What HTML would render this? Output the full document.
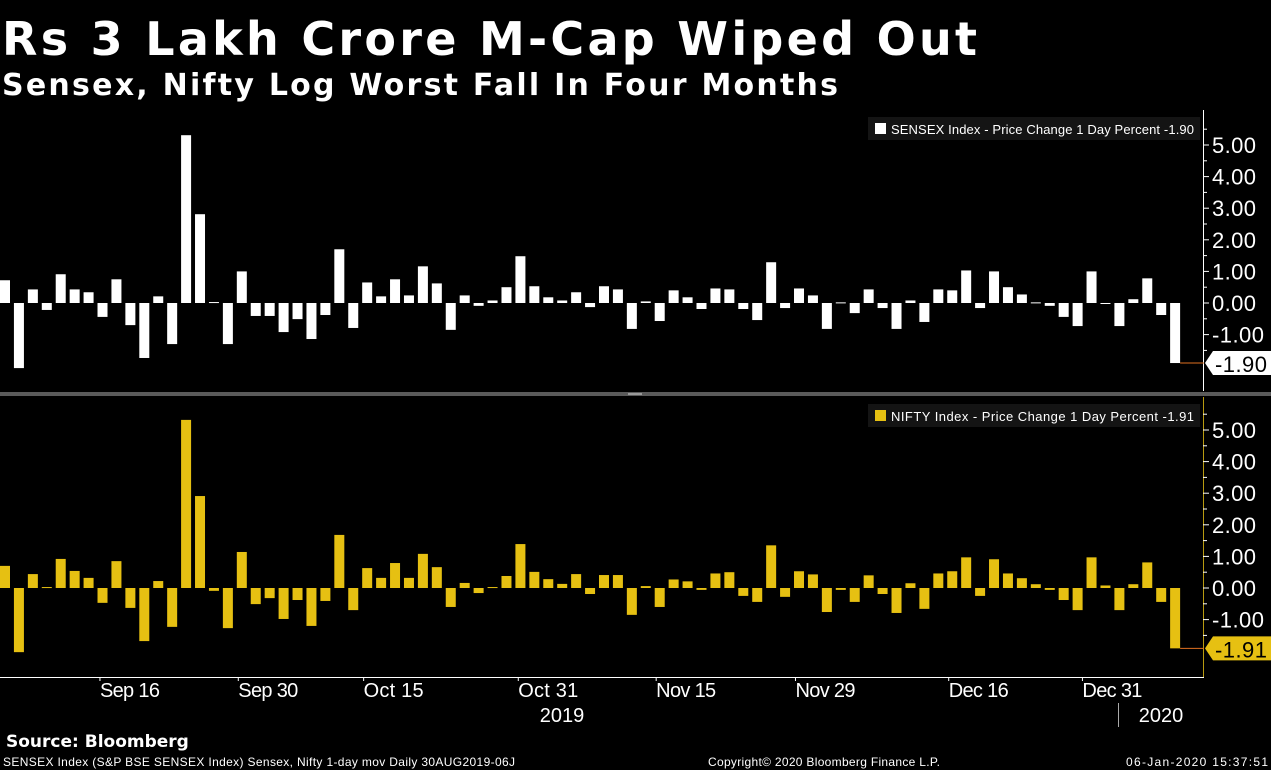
<!DOCTYPE html>
<html><head><meta charset="utf-8"><style>
body{margin:0;background:#000;width:1271px;height:770px;overflow:hidden}
svg{display:block}
</style></head><body>
<svg id="c" width="1271" height="770" xmlns="http://www.w3.org/2000/svg">
<text x="2" y="55" font-family="DejaVu Sans" font-weight="bold" font-size="46" fill="#fff" textLength="975">Rs 3 Lakh Crore M-Cap Wiped Out</text>
<text x="2" y="95" font-family="DejaVu Sans" font-weight="bold" font-size="30" fill="#fff" textLength="836">Sensex, Nifty Log Worst Fall In Four Months</text>
<rect x="0" y="392" width="1271" height="4" fill="#5a5a5a"/>
<rect x="628" y="393" width="14" height="2" fill="#999"/>
<g id="g"></g>
<text x="6" y="747" font-family="DejaVu Sans" font-weight="bold" font-size="17" fill="#fff">Source: Bloomberg</text>
<text x="3" y="766" font-family="Liberation Sans" font-size="12" fill="#fff" textLength="512">SENSEX Index (S&amp;P BSE SENSEX Index) Sensex, Nifty 1-day mov  Daily 30AUG2019-06J</text>
<text x="708" y="766" font-family="Liberation Sans" font-size="12" fill="#fff" textLength="232">Copyright© 2020 Bloomberg Finance L.P.</text>
<text x="1126" y="766" font-family="Liberation Sans" font-size="12" fill="#fff" textLength="142">06-Jan-2020 15:37:51</text>
</svg>
<script>
const sensex=[0.72,-2.06,0.43,-0.22,0.91,0.43,0.34,-0.44,0.75,-0.70,-1.74,0.21,-1.30,5.31,2.81,0.03,-1.30,1.00,-0.41,-0.41,-0.92,-0.51,-1.14,-0.38,1.70,-0.79,0.65,0.21,0.75,0.24,1.16,0.62,-0.85,0.24,-0.09,0.08,0.50,1.48,0.53,0.18,0.08,0.34,-0.13,0.53,0.43,-0.82,0.05,-0.57,0.40,0.18,-0.19,0.46,0.43,-0.19,-0.54,1.29,-0.16,0.46,0.24,-0.82,0.02,-0.32,0.43,-0.16,-0.82,0.08,-0.60,0.43,0.40,1.03,-0.16,1.00,0.50,0.27,0.02,-0.09,-0.44,-0.73,1.00,-0.03,-0.73,0.12,0.78,-0.38,-1.90];
const nifty=[0.70,-2.03,0.44,0.03,0.92,0.54,0.32,-0.47,0.85,-0.63,-1.68,0.22,-1.23,5.32,2.91,-0.09,-1.27,1.14,-0.51,-0.32,-0.98,-0.38,-1.20,-0.41,1.68,-0.70,0.63,0.32,0.79,0.32,1.08,0.66,-0.60,0.16,-0.16,0.03,0.38,1.39,0.51,0.28,0.13,0.44,-0.19,0.41,0.41,-0.85,0.06,-0.60,0.27,0.21,-0.06,0.46,0.50,-0.25,-0.44,1.35,-0.28,0.53,0.43,-0.76,-0.06,-0.44,0.40,-0.19,-0.79,0.15,-0.66,0.46,0.53,0.97,-0.25,0.91,0.46,0.31,0.12,-0.06,-0.38,-0.70,0.97,0.08,-0.70,0.12,0.81,-0.44,-1.91];
const yTicks=[5,4,3,2,1,0,-1];
const xLabels=["Sep 16","Sep 30","Oct 15","Oct 31","Nov 15","Nov 29","Dec 16","Dec 31"];
const xLabelIdx=[8.97,18.9,27.9,39.0,48.9,58.9,69.9,79.5];
const NS="http://www.w3.org/2000/svg",g=document.getElementById('g');
function el(t,a,txt){const e=document.createElementNS(NS,t);for(const k in a)e.setAttribute(k,a[k]);if(txt!==undefined)e.textContent=txt;g.appendChild(e);return e;}
const pitch=13.93,bw=10;
const xPos=i=>i*pitch;
function panel(data,zero,color,name,legend,axisCol,tagCol,tagTxt,top,bot){
  const ys=v=>zero-v*31.6;
  data.forEach((v,i)=>{
    const y0=ys(Math.max(v,0)),h=Math.max(Math.abs(v)*31.6,1);
    const r=el('rect',{x:xPos(i),y:y0,width:bw,height:h,fill:color});
    
    
  });
  const ax=el('line',{x1:1203.5,y1:top,x2:1203.5,y2:bot,stroke:axisCol,'stroke-width':1});
  
  
  for(let v=5.5;v>=-1.5;v-=0.5){const y=ys(v);el('line',{x1:1203,y1:y,x2:v%1===0?1209:1207,y2:y,stroke:'#fff'});}
  yTicks.forEach(v=>{
    const t=el('text',{x:1212,y:ys(v)+8,fill:'#fff','font-family':'Liberation Sans','font-size':22,textLength:v<0?52:44},v.toFixed(2));
    
    
  });
  const lb=el('rect',{x:868,y:top+7,width:332,height:23,fill:'#141414'});
  
  
  el('rect',{x:875,y:top+13,width:11,height:11,fill:color});
  const lt=el('text',{x:891,y:top+24,fill:'#fff','font-family':'Liberation Sans','font-size':13,textLength:303},legend);
  
  
  const last=data[data.length-1],ly=ys(last);
  el('line',{x1:xPos(data.length-1)+bw,y1:ly,x2:1204,y2:ly,stroke:'#e07020','stroke-width':1});
  const tag=el('path',{d:`M1205 ${ly} L1213 ${ly-12} L1271 ${ly-12} L1271 ${ly+12} L1213 ${ly+12} Z`,fill:tagCol});
  
  
  const tt=el('text',{x:1215,y:ly+9,fill:'#000','font-family':'Liberation Sans','font-size':22,textLength:52},tagTxt);
  
  
}
panel(sensex,303,'#ffffff','sensex','SENSEX Index - Price Change 1 Day Percent -1.90','#ffffff','#ffffff',sensex[sensex.length-1].toFixed(2),110,391);
panel(nifty,588,'#e6c012','nifty','NIFTY Index - Price Change 1 Day Percent -1.91','#b89a10','#e6c012',nifty[nifty.length-1].toFixed(2),397,677);
const xa=el('line',{x1:0,y1:677.5,x2:1204,y2:677.5,stroke:'#fff'});


xLabels.forEach((s,i)=>{
  const x=xPos(xLabelIdx[i])+bw/2;
  el('line',{x1:x-30,y1:677,x2:x-30,y2:681,stroke:'#fff'});
  const t=el('text',{x:x,y:697,fill:'#fff','font-family':'Liberation Sans','font-size':20,'text-anchor':'middle',textLength:s.length*10},s);
  
  
});
const y1=el('text',{x:562,y:722,fill:'#fff','font-family':'Liberation Sans','font-size':20,'text-anchor':'middle'},'2019');


el('line',{x1:1118.5,y1:703,x2:1118.5,y2:727,stroke:'#aaa'});
const y2=el('text',{x:1161,y:722,fill:'#fff','font-family':'Liberation Sans','font-size':20,'text-anchor':'middle'},'2020');


</script>
</body></html>
